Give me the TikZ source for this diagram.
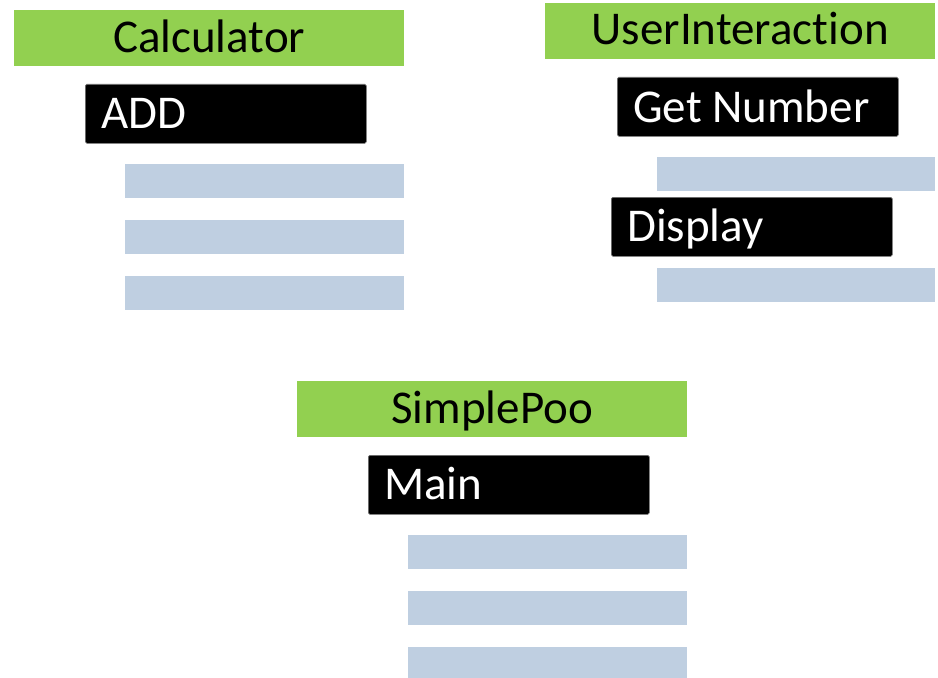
\documentclass[tikz,border=0pt]{standalone}
\usepackage{fontspec}
\setmainfont[Ligatures=NoCommon]{Carlito}
\definecolor{hdrgreen}{RGB}{146,208,80}
\definecolor{slotblue}{RGB}{191,207,225}
\tikzset{
  header/.style={fill=hdrgreen, draw=none, inner sep=0pt, anchor=north west,
    minimum width=390bp, minimum height=56bp},
  method/.style={fill=black, draw=black!55, line width=0.6bp, rounded corners=1.5bp,
    inner sep=0pt, anchor=north west, minimum width=281bp, minimum height=59bp},
  slot/.style={fill=slotblue, draw=none, inner sep=0pt, anchor=north west,
    minimum width=279bp, minimum height=34bp},
  title/.style={anchor=base, inner sep=0pt, text=black, font=\fontsize{47bp}{56bp}\selectfont},
  mlabel/.style={anchor=base west, inner sep=0pt, text=white, font=\fontsize{47bp}{56bp}\selectfont},
}
\begin{document}
\begin{tikzpicture}[x=1bp, y=-1bp]
  \useasboundingbox (0,0) rectangle (938,678);
  \clip (0,0) rectangle (938,678);

  % Calculator class
  \node[header] (calc) at (14,10) {};
  \node[title] (calct) at ([yshift=-43bp]calc.north) {Calculator};
  \node[method] (add) at (85,84) {};
  \node[mlabel] (addt) at ([xshift=16bp,yshift=-44bp]add.north west) {ADD};
  \node[slot] (calcs1) at (125,164) {};
  \node[slot] (calcs2) at (125,220) {};
  \node[slot] (calcs3) at (125,276) {};

  % UserInteraction class
  \node[header] (ui) at (545,3) {};
  \node[title] (uit) at ([yshift=-42bp]ui.north) {UserInteraction};
  \node[method] (getnum) at (617,77) {};
  \node[mlabel] (getnumt) at ([xshift=16bp,yshift=-45bp]getnum.north west) {Get Number};
  \node[slot, minimum width=278bp] (uis1) at (657,157) {};
  \node[method] (disp) at (611,197) {};
  \node[mlabel] (dispt) at ([xshift=16bp,yshift=-44bp]disp.north west) {Display};
  \node[slot, minimum width=278bp] (uis2) at (657,268) {};

  % SimplePoo class
  \node[header] (sp) at (297,381) {};
  \node[title] (spt) at ([yshift=-42bp]sp.north) {SimplePoo};
  \node[method] (main) at (368,455) {};
  \node[mlabel] (maint) at ([xshift=16bp,yshift=-44bp]main.north west) {Main};
  \node[slot] (sps1) at (408,535) {};
  \node[slot] (sps2) at (408,591) {};
  \node[slot] (sps3) at (408,647) {};
\end{tikzpicture}
\end{document}
